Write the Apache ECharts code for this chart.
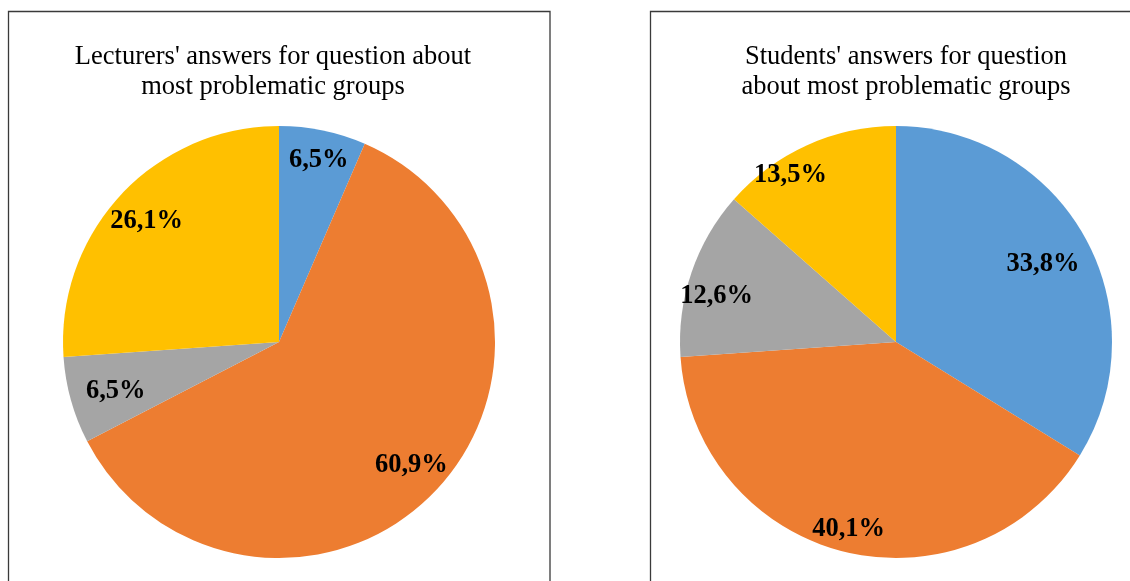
<!DOCTYPE html>
<html>
<head>
<meta charset="utf-8">
<script src="https://cdn.jsdelivr.net/npm/echarts@6/dist/echarts.min.js"></script>
<style>
html,body{margin:0;padding:0;background:#fff;}
#chart{width:1130px;height:581px;}
</style>
</head>
<body>
<div id="chart"></div>
<script>
const categories = ['Group 1', 'Group 2', 'Group 3', 'Group 4'];
const lecturersValues = [6.5, 60.9, 6.5, 26.1];
const studentsValues = [33.8, 40.1, 12.6, 13.5];
const sliceColors = ['#5B9BD5', '#ED7D31', '#A5A5A5', '#FFC000'];
const lecturersTitle = "Lecturers' answers for question about\nmost problematic groups";
const studentsTitle = "Students' answers for question\nabout most problematic groups";

// label nudges (style only, Excel "best fit" placement)
const lecturersLabelNudge = [[3, -5], [0, 0], [11, 0], [0, 3]];
const studentsLabelNudge = [[-11, 10], [-4, 11], [-8, 12], [-31, -2]];

const chart = echarts.init(document.getElementById('chart'));
const serif = '"Liberation Serif", "Times New Roman", serif';

function toData(vals) {
  return vals.map((v, i) => ({ name: categories[i], value: v, itemStyle: { color: sliceColors[i] } }));
}
function labelData(vals, nudges) {
  return vals.map((v, i) => ({ name: categories[i], value: v, label: { offset: nudges[i] } }));
}
function pieSeries(vals, center, nudges) {
  return [
    {
      type: 'pie',
      center: center,
      radius: [0, 216],
      startAngle: 90,
      clockwise: true,
      animation: false,
      silent: true,
      label: { show: false },
      labelLine: { show: false },
      itemStyle: { borderWidth: 0 },
      data: toData(vals)
    },
    {
      type: 'pie',
      center: center,
      radius: [140, 216],
      startAngle: 90,
      clockwise: true,
      animation: false,
      silent: true,
      itemStyle: { color: 'rgba(0,0,0,0)', borderWidth: 0 },
      emphasis: { disabled: true },
      label: {
        show: true,
        position: 'inside',
        fontFamily: serif,
        fontWeight: 'bold',
        fontSize: 26.5,
        color: '#000',
        formatter: p => p.value.toFixed(1).replace('.', ',') + '%'
      },
      labelLine: { show: false },
      data: labelData(vals, nudges)
    }
  ];
}

chart.setOption({
  backgroundColor: '#fff',
  animation: false,
  graphic: [
    { type: 'rect', shape: { x: 8.5, y: 11.5, width: 541.5, height: 600 }, style: { fill: 'none', stroke: '#3a3a3a', lineWidth: 1.3 }, z: -1 },
    { type: 'rect', shape: { x: 650.5, y: 11.5, width: 560, height: 600 }, style: { fill: 'none', stroke: '#3a3a3a', lineWidth: 1.3 }, z: -1 }
  ],
  title: [
    {
      text: lecturersTitle,
      left: 268, top: 37, textAlign: 'center',
      textStyle: { fontFamily: serif, fontWeight: 'normal', fontSize: 26.5, lineHeight: 30, color: '#000', align: 'center' }
    },
    {
      text: studentsTitle,
      left: 901, top: 37, textAlign: 'center',
      textStyle: { fontFamily: serif, fontWeight: 'normal', fontSize: 26.5, lineHeight: 30, color: '#000', align: 'center' }
    }
  ],
  series: [].concat(pieSeries(lecturersValues, [279, 342], lecturersLabelNudge), pieSeries(studentsValues, [896, 342], studentsLabelNudge))
});
</script>
</body>
</html>
